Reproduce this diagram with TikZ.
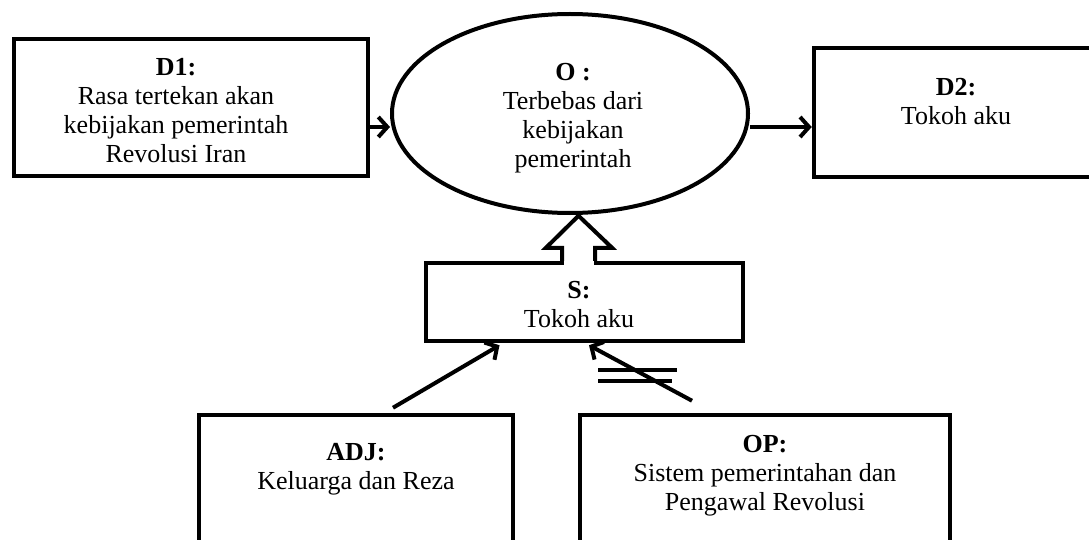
\documentclass[tikz,border=0pt]{standalone}
\usepackage{fontspec}
\setmainfont{Liberation Serif}
\usetikzlibrary{arrows.meta, shapes.geometric, positioning, calc}

\begin{document}
\begin{tikzpicture}[x=1pt, y=-1pt,
  box/.style={draw, line width=4.5pt, inner sep=0pt, minimum width=#1},
  oval/.style={draw, ellipse, line width=4pt, inner sep=0pt,
               minimum width=356pt, minimum height=199pt},
  txt/.style={anchor=north, inner sep=0pt, align=center,
              font=\fontsize{26}{29}\selectfont},
  arr/.style={line width=4pt, -{Straight Barb[length=9pt, width=20pt]}},
  hollow/.style={line width=4pt, line join=miter}
]
\useasboundingbox (0,0) rectangle (1089,540);
\fill[white] (0,0) rectangle (1089,540);
\clip (0,0) rectangle (1089,540);

%% Boxes
\node[box=354pt, minimum height=137pt] (d1)  at (191,107.5)  {};
\node[oval]                            (o)   at (570,113.5)  {};
\node[box=284pt, minimum height=129pt] (d2)  at (956,112.5)  {};
\node[box=317pt, minimum height=78pt]  (s)   at (584.5,302)  {};
\node[box=314pt, minimum height=185pt] (adj) at (356,507.5)  {};
\node[box=370pt, minimum height=185pt] (op)  at (765,507.5)  {};

%% Texts
\node[txt] (d1t)  at (176,54.7)  {\strut\textbf{D1:}\\Rasa tertekan akan\\kebijakan pemerintah\\Revolusi Iran};
\node[txt] (ot)   at (573,59.7)  {\strut\textbf{O :}\\Terbebas dari\\kebijakan\\pemerintah};
\node[txt] (d2t)  at (956,74.7)  {\strut\textbf{D2:}\\Tokoh aku};
\node[txt] (st)   at (579,277.7) {\strut\textbf{S:}\\Tokoh aku};
\node[txt] (adjt) at (356,439.7) {\strut\textbf{ADJ:}\\Keluarga dan Reza};
\node[txt] (opt)  at (765,431.7) {\strut\textbf{OP:}\\Sistem pemerintahan dan\\Pengawal Revolusi};

%% Top row
\draw[arr] (d1.east |- 0,127) -- (o.west |- 0,127);
\draw[arr] (o.east |- 0,127) -- (d2.west |- 0,127);

%% S -> O (hollow arrow)
\coordinate (sa) at ($(s.north)+(-6,0)$);
\fill[white] ($(sa)+(-15,-4)$) rectangle ($(sa)+(15,4)$);
\draw[hollow] ($(sa)+(-16.5,0)$) -- ++(0,-13) -- ++(-16,0)
  -- ($(sa)+(0,-45)$) -- ($(sa)+(33.5,-13)$) -- ++(-17,0) -- ++(0,13);

%% Helper and opponent
\draw[arr] ($(adj.north)+(37,-5)$) -- ($(s.south)+(-85,2)$);
\draw[arr] ($(op.north)+(-73,-12)$) -- ($(s.south)+(4.5,2)$);
\draw[line width=4pt] (598,370) -- (677,370);
\draw[line width=4pt] (598,381) -- (672,381);

\end{tikzpicture}
\end{document}
